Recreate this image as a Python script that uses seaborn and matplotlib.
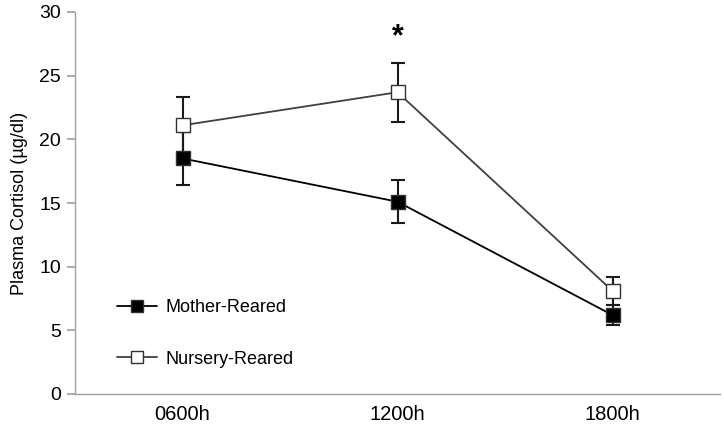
import matplotlib
matplotlib.use("Agg")
import matplotlib.pyplot as plt
import seaborn as sns
import pandas as pd
from matplotlib.lines import Line2D

categories = ["0600h", "1200h", "1800h"]
mother_mean = [18.5, 15.1, 6.2]
mother_err = [2.1, 1.7, 0.8]
nursery_mean = [21.1, 23.7, 8.1]
nursery_err = [2.2, 2.3, 1.1]
groups = ["Mother-Reared", "Nursery-Reared"]

sns.set_theme(style="white")
plt.rcParams['font.family'] = ['Liberation Sans', 'DejaVu Sans']
plt.rcParams['text.color'] = 'black'
plt.rcParams['axes.labelcolor'] = 'black'
plt.rcParams['xtick.labelcolor'] = 'black'
plt.rcParams['ytick.labelcolor'] = 'black'

df = pd.DataFrame({
    "pos": list(range(len(categories))) * 2,
    "value": mother_mean + nursery_mean,
    "err": mother_err + nursery_err,
    "group": [groups[0]] * 3 + [groups[1]] * 3,
})

fig = plt.figure(figsize=(7.24, 4.34), dpi=100)
ax = fig.add_axes([75 / 724, 40 / 434, 645 / 724, 382 / 434])

styles = {
    groups[0]: dict(line="#000000", face="#000000"),
    groups[1]: dict(line="#404040", face="#ffffff"),
}

for g in groups:
    d = df[df.group == g]
    st = styles[g]
    ax.errorbar(d.pos, d.value, yerr=d.err, fmt="none", ecolor="#1a1a1a",
                elinewidth=1.5, capsize=5, capthick=1.5, zorder=2)
    sns.lineplot(data=d, x="pos", y="value", ax=ax, color=st["line"], lw=1.3,
                 marker="s", markersize=10, markerfacecolor=st["face"],
                 markeredgecolor="#303030", markeredgewidth=1.0, zorder=3,
                 legend=False)

ax.text(1, 28.0, "*", ha="center", va="center", fontsize=22, fontweight="bold")

ax.set_xlim(-0.5, 2.5)
ax.set_ylim(0, 30)
ax.set_yticks(range(0, 31, 5))
ax.set_xticks(range(len(categories)))
ax.set_xticklabels(categories)
ax.set_xticks([-0.5, 0.5, 1.5, 2.5], minor=True)
ax.tick_params(axis="x", which="major", length=0, pad=8, labelsize=14.5)
ax.tick_params(axis="x", which="minor", length=4, direction="out", color="#a0a0a0", width=1)
ax.tick_params(axis="y", length=6, direction="out", color="#a0a0a0", labelsize=14, pad=4, left=True)
ax.set_xlabel("")
ax.set_ylabel("Plasma Cortisol (µg/dl)", fontsize=13, labelpad=8)
for s in ["top", "right"]:
    ax.spines[s].set_visible(False)
for s in ["left", "bottom"]:
    ax.spines[s].set_color("#a0a0a0")
    ax.spines[s].set_linewidth(1.0)

handles = [
    Line2D([], [], color="#000000", lw=1.3, marker="s", markersize=8,
           markerfacecolor="#000000", markeredgecolor="#303030"),
    Line2D([], [], color="#404040", lw=1.3, marker="s", markersize=8,
           markerfacecolor="#ffffff", markeredgecolor="#303030"),
]
ax.legend(handles, groups, loc="upper left", bbox_to_anchor=(0.04, 0.29),
          frameon=False, fontsize=13, handlelength=2.2, labelspacing=1.9,
          handletextpad=0.5, labelcolor="black")

fig.savefig("out.png", dpi=100)
